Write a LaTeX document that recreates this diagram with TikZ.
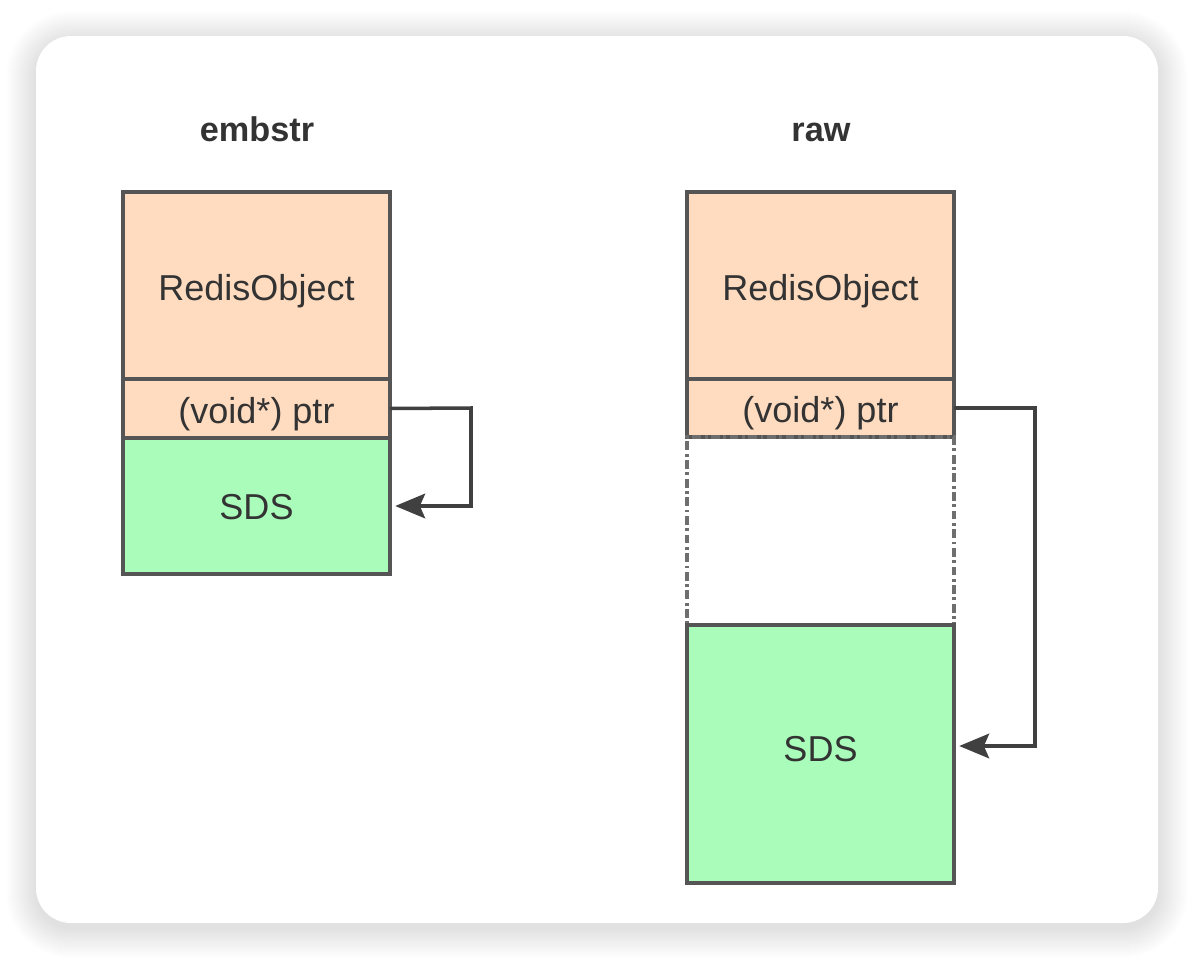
\documentclass[tikz,border=0pt]{standalone}
\usepackage{fontspec}
\setmainfont{Liberation Sans}
\usetikzlibrary{arrows.meta}
\definecolor{peach}{HTML}{FFDCC0}
\definecolor{mint}{HTML}{A9FCBA}
\definecolor{edge}{HTML}{555555}
\definecolor{txt}{HTML}{333333}
\tikzset{
  cell/.style={draw=edge, line width=2pt, inner sep=0pt, outer sep=0pt,
    minimum width=5.34cm, font=\fontsize{20.5pt}{24pt}\selectfont, text=txt,
    text height=14.8pt, text depth=0pt},
  hdr/.style={cell, fill=peach},
  sds/.style={cell, fill=mint},
  gap/.style={draw=edge!85, line width=2.2pt, inner sep=0pt, outer sep=0pt,
    minimum width=5.34cm, dash pattern=on 5pt off 2pt on 1.6pt off 2pt},
  ttl/.style={font=\bfseries\fontsize{19.5pt}{23pt}\selectfont, text=txt, anchor=base},
  conn/.style={draw=black!75, line width=2pt, -{Stealth[length=17pt,width=14pt,inset=3pt]}, shorten >=3pt}
}
\begin{document}
\begin{tikzpicture}[x=0.02cm,y=-0.02cm]
\useasboundingbox (0,0) rectangle (1194,960);
\fill[white] (0,0) rectangle (1194,960);
% soft shadow of the card
\foreach \i in {1,...,30} {
  \fill[black, opacity=0.005, rounded corners={0.7cm+\i*0.02cm}]
    (36-\i,36-\i+5) rectangle (1158+\i,923+\i+5);
}
\fill[white, rounded corners=0.7cm] (36,36) rectangle (1158,923);
% embstr
\node[ttl] (t1) at (257,141) {embstr};
\node[hdr, minimum height=3.74cm] (ro1) at (256.5,285.5) {\raisebox{-1.4pt}{RedisObject}};
\node[hdr, minimum height=1.18cm] (p1) at (256.5,408.5) {\raisebox{-1pt}{(void*) ptr}};
\node[sds, minimum height=2.72cm] (s1) at (256.5,506) {SDS};
% raw
\node[ttl] (t2) at (821,141) {raw};
\node[hdr, minimum height=3.74cm] (ro2) at (820.5,285.5) {\raisebox{-1.4pt}{RedisObject}};
\node[hdr, minimum height=1.16cm] (p2) at (820.5,408) {\raisebox{-1pt}{(void*) ptr}};
\node[gap, minimum height=3.76cm] (g2) at (820.5,531) {};
\node[sds, minimum height=5.16cm] (s2) at (820.5,754) {\raisebox{3.2pt}{SDS}};
% connectors
\coordinate (c1) at (471,408);
\coordinate (c2) at (1035,408);
\draw[conn] (p1.east) -- (c1) |- (s1.east);
\draw[conn] (p2.east) -- (c2) |- ([yshift=0.16cm]s2.east);
\end{tikzpicture}
\end{document}
